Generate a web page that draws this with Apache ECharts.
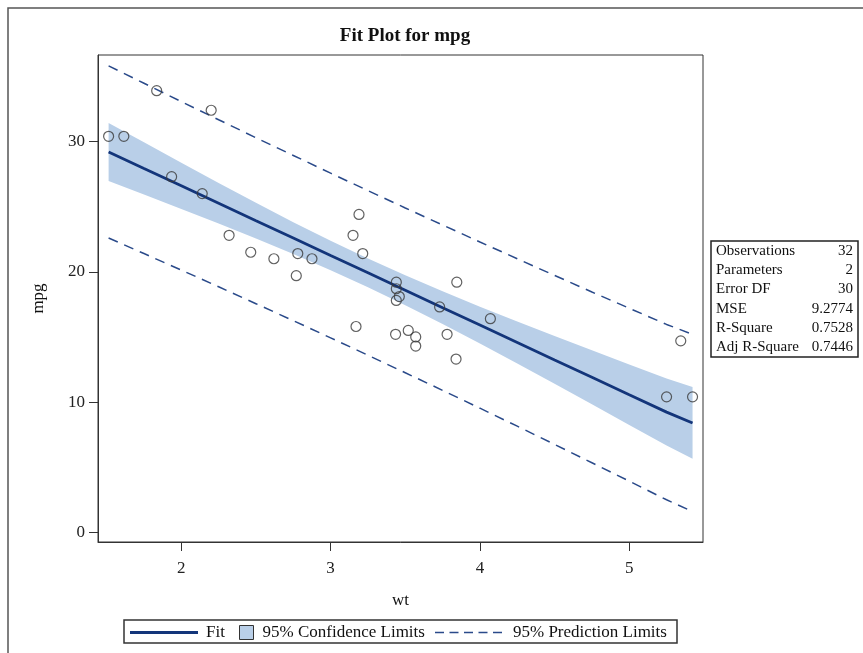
<!DOCTYPE html>
<html>
<head>
<meta charset="utf-8">
<script src="https://cdn.jsdelivr.net/npm/echarts@6/dist/echarts.min.js"></script>
<style>
html,body{margin:0;padding:0;background:#fff;}
#chart{width:863px;height:653px;}
</style>
</head>
<body>
<div id="chart"></div>
<script>
// Observations (wt, mpg)
const obsWt  = [2.620, 2.875, 2.320, 3.215, 3.440, 3.460, 3.570, 3.190, 3.150, 3.440, 3.440, 4.070, 3.730, 3.780, 5.250, 5.424,
                5.345, 2.200, 1.615, 1.835, 2.465, 3.520, 3.435, 3.840, 3.845, 1.935, 2.140, 1.513, 3.170, 2.770, 3.570, 2.780];
const obsMpg = [21.0, 21.0, 22.8, 21.4, 18.7, 18.1, 14.3, 24.4, 22.8, 19.2, 17.8, 16.4, 17.3, 15.2, 10.4, 10.4,
                14.7, 32.4, 30.4, 33.9, 21.5, 15.5, 15.2, 13.3, 19.2, 27.3, 26.0, 30.4, 15.8, 19.7, 15.0, 21.4];

// Fit line and limits read along wt
const bandX   = [1.513, 1.75, 2.0, 2.25, 2.5, 2.75, 3.0, 3.25, 3.5, 3.75, 4.0, 4.25, 4.5, 4.75, 5.0, 5.25, 5.424];
const fitY    = [29.20, 27.93, 26.60, 25.26, 23.92, 22.59, 21.25, 19.92, 18.58, 17.24, 15.91, 14.57, 13.23, 11.90, 10.56, 9.23, 8.40];
const clLower = [26.96, 25.93, 24.82, 23.70, 22.55, 21.37, 20.12, 18.82, 17.43, 15.99, 14.49, 12.96, 11.40, 9.83, 8.25, 6.66, 5.65];
const clUpper = [31.43, 29.94, 28.37, 26.82, 25.30, 23.81, 22.38, 21.02, 19.73, 18.50, 17.32, 16.18, 15.07, 13.97, 12.88, 11.80, 11.15];
const plLower = [22.59, 21.40, 20.13, 18.85, 17.55, 16.25, 14.93, 13.60, 12.25, 10.90, 9.53, 8.15, 6.75, 5.34, 3.93, 2.50, 1.60];
const plUpper = [35.81, 34.47, 33.06, 31.67, 30.29, 28.93, 27.57, 26.23, 24.90, 23.59, 22.29, 21.00, 19.72, 18.45, 17.20, 15.96, 15.20];

// Tick labels
const xTicks = [2, 3, 4, 5];
const yTicks = [0, 10, 20, 30];

// Fit statistics table
const statLabels = ['Observations', 'Parameters', 'Error DF', 'MSE', 'R-Square', 'Adj R-Square'];
const statValues = ['32', '2', '30', '9.2774', '0.7528', '0.7446'];

const SERIF = "'Liberation Serif','Times New Roman',Times,serif";
const pair = (xs, ys) => xs.map((x, i) => [x, ys[i]]);

const chart = echarts.init(document.getElementById('chart'), null, {renderer: 'canvas'});

const statGraphics = [{
  type: 'rect', shape: {x: 711, y: 241, width: 147, height: 116},
  style: {fill: '#fff', stroke: '#222', lineWidth: 1.5}
}];
statLabels.forEach((lab, i) => {
  const cy = 251 + i * 19.2;
  statGraphics.push({type: 'text', x: 716, y: cy,
    style: {text: lab, font: '15px ' + SERIF, fill: '#111', textAlign: 'left', textVerticalAlign: 'middle'}});
  statGraphics.push({type: 'text', x: 853, y: cy,
    style: {text: statValues[i], font: '15px ' + SERIF, fill: '#111', textAlign: 'right', textVerticalAlign: 'middle'}});
});

const solidIcon = 'path://M0 0H68V3H0Z';
const dashIcon = 'path://M0 0H9V1.6H0ZM14.5 0H23.5V1.6H14.5ZM29 0H38V1.6H29ZM43.5 0H52.5V1.6H43.5ZM58 0H67V1.6H58Z';

const option = {
  animation: false,
  backgroundColor: '#fff',
  title: {
    text: 'Fit Plot for mpg', left: 400, top: 22, textAlign: 'center',
    textStyle: {fontFamily: SERIF, fontSize: 19, fontWeight: 'bold', color: '#111'}
  },
  grid: {left: 98, right: 160, top: 55, bottom: 111, show: true, borderColor: '#333', borderWidth: 1, containLabel: false},
  xAxis: {
    type: 'value', min: 1.442, max: 5.494,
    name: 'wt', nameLocation: 'middle', nameGap: 50,
    nameTextStyle: {fontFamily: SERIF, fontSize: 17, color: '#111'},
    axisLine: {show: true, onZero: false, lineStyle: {color: '#333', width: 1}},
    axisTick: {show: true, length: 9, lineStyle: {color: '#333'}, customValues: xTicks},
    axisLabel: {margin: 18, fontFamily: SERIF, fontSize: 17, color: '#222', customValues: xTicks},
    splitLine: {show: false}
  },
  yAxis: {
    type: 'value', min: -0.74, max: 36.64,
    name: 'mpg', nameLocation: 'middle', nameGap: 51,
    nameTextStyle: {fontFamily: SERIF, fontSize: 17, color: '#111'},
    axisLine: {show: true, onZero: false, lineStyle: {color: '#333', width: 1}},
    axisTick: {show: true, length: 9, lineStyle: {color: '#333'}, customValues: yTicks},
    axisLabel: {margin: 13, fontFamily: SERIF, fontSize: 17, color: '#222', customValues: yTicks},
    splitLine: {show: false}
  },
  legend: [
    {data: [{name: 'Fit', icon: solidIcon, itemStyle: {color: '#13357a', borderWidth: 0}}],
     left: 125, top: 619, itemWidth: 68, itemHeight: 14, itemGap: 0,
     textStyle: {fontFamily: SERIF, fontSize: 17, color: '#111', padding: [0, 0, 0, 3]}, selectedMode: false},
    {data: [{name: '95% Confidence Limits', icon: 'rect', itemStyle: {color: '#b9cfe8', borderColor: '#333', borderWidth: 1}}],
     left: 234, top: 619, itemWidth: 14, itemHeight: 14,
     textStyle: {fontFamily: SERIF, fontSize: 17, color: '#111', padding: [0, 0, 0, 4]}, selectedMode: false},
    {data: [{name: '95% Prediction Limits', icon: dashIcon, itemStyle: {color: '#2a4a8a', borderWidth: 0}}],
     left: 430, top: 619, itemWidth: 67, itemHeight: 14,
     textStyle: {fontFamily: SERIF, fontSize: 17, color: '#111', padding: [0, 0, 0, 6]}, selectedMode: false}
  ],
  graphic: [
    {type: 'rect', shape: {x: 8, y: 8, width: 900, height: 700}, style: {fill: 'none', stroke: '#555', lineWidth: 1.5}, z: -10},
    {type: 'rect', shape: {x: 124, y: 620, width: 553, height: 23}, style: {fill: 'none', stroke: '#333', lineWidth: 1.5}},
    {type: 'group', children: statGraphics}
  ],
  series: [
    {
      name: '95% Confidence Limits', type: 'custom', z: 1,
      itemStyle: {color: '#b9cfe8'},
      data: [[bandX[0], clLower[0]]],
      renderItem: function (params, api) {
        const pts = [];
        for (let i = 0; i < bandX.length; i++) pts.push(api.coord([bandX[i], clUpper[i]]));
        for (let i = bandX.length - 1; i >= 0; i--) pts.push(api.coord([bandX[i], clLower[i]]));
        return {type: 'polygon', shape: {points: pts}, style: {fill: '#b9cfe8', stroke: 'none'}};
      },
      silent: true
    },
    {
      name: 'Fit', type: 'line', symbol: 'none', z: 3,
      data: pair(bandX, fitY),
      lineStyle: {color: '#13357a', width: 2.8},
      itemStyle: {color: '#13357a'}
    },
    {
      name: '95% Prediction Limits', type: 'line', symbol: 'none', z: 3,
      data: pair(bandX, plUpper),
      lineStyle: {color: '#2a4a8a', width: 1.5, type: [10, 7]},
      itemStyle: {color: '#2a4a8a'}
    },
    {
      name: '95% Prediction Limits', type: 'line', symbol: 'none', z: 3,
      data: pair(bandX, plLower),
      lineStyle: {color: '#2a4a8a', width: 1.5, type: [10, 7]},
      itemStyle: {color: '#2a4a8a'}
    },
    {
      name: 'Observations', type: 'scatter', z: 5,
      symbol: 'circle', symbolSize: 10,
      data: pair(obsWt, obsMpg),
      itemStyle: {color: 'rgba(0,0,0,0)', borderColor: '#3a3a3a', borderWidth: 1.2}
    }
  ]
};
chart.setOption(option);
</script>
</body>
</html>
